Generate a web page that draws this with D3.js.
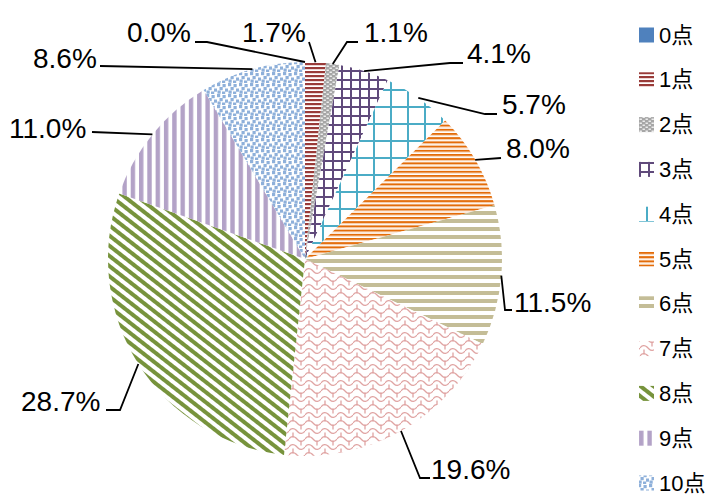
<!DOCTYPE html>
<html>
<head>
<meta charset="utf-8">
<script src="https://cdn.jsdelivr.net/npm/d3@7"></script>
<style>
  html, body { margin: 0; padding: 0; background: #fff; }
  svg { display: block; }
</style>
</head>
<body>
<svg id="chart" width="713" height="495"></svg>
<script>
// Score categories and their share of responses (%)
const categories = ["0点", "1点", "2点", "3点", "4点", "5点", "6点", "7点", "8点", "9点", "10点"];
const shares = [0.0, 1.7, 1.1, 4.1, 5.7, 8.0, 11.5, 19.6, 28.7, 11.0, 8.6];
const shareLabels = ["0.0%", "1.7%", "1.1%", "4.1%", "5.7%", "8.0%", "11.5%", "19.6%", "28.7%", "11.0%", "8.6%"];

// Label placement: text left edge / baseline and the leader-line bend points
const labelLayout = [
  { x: 127, y: 42,  bends: [[207, 42], [195, 42]] },
  { x: 242, y: 42,  bends: [[309, 42]] },
  { x: 364, y: 42,  bends: [[347, 42], [358, 42]] },
  { x: 467, y: 63,  bends: [[450, 63], [463, 63]] },
  { x: 502, y: 114, bends: [[485, 114], [497, 114]] },
  { x: 506, y: 158, bends: [[501, 158]] },
  { x: 514, y: 312, bends: [[505, 310], [512, 310]] },
  { x: 431, y: 479, bends: [[420, 478], [430, 478]] },
  { x: 21,  y: 411, bends: [[120, 410], [106, 410]] },
  { x: 9,   y: 138, bends: [[92, 132]] },
  { x: 33,  y: 68,  bends: [[100, 66]] }
];

const svg = d3.select("#chart");
const defs = svg.append("defs");

// ---- fill patterns ----
function pattern(id, w, h, draw, transform) {
  const p = defs.append("pattern")
    .attr("id", id)
    .attr("patternUnits", "userSpaceOnUse")
    .attr("width", w).attr("height", h);
  if (transform) p.attr("patternTransform", transform);
  p.append("rect").attr("width", w).attr("height", h).attr("fill", "#fff");
  draw(p);
}

// 1点: narrow horizontal dark red lines
pattern("p1", 8, 4, p => {
  p.append("rect").attr("y", 0).attr("width", 8).attr("height", 2).attr("fill", "#993B39");
  p.append("rect").attr("y", 2).attr("width", 8).attr("height", 0.6).attr("fill", "#E2B9B8");
});
// 2点: grey brick dots
pattern("p2", 6, 4, p => {
  p.append("rect").attr("width", 6).attr("height", 4).attr("fill", "#A6A6A6");
  p.append("rect").attr("x", 0.5).attr("y", 0.6).attr("width", 2.4).attr("height", 1.2).attr("fill", "#fff");
  p.append("rect").attr("x", 3.5).attr("y", 2.6).attr("width", 2.4).attr("height", 1.2).attr("fill", "#fff");
});
// 3点: small purple grid
pattern("p3", 9, 9, p => {
  p.append("rect").attr("width", 9).attr("height", 2).attr("fill", "#604A7B");
  p.append("rect").attr("width", 2).attr("height", 9).attr("fill", "#604A7B");
});
// 4点: large teal grid
pattern("p4", 17, 17, p => {
  p.append("rect").attr("width", 17).attr("height", 2).attr("fill", "#4BACC6");
  p.append("rect").attr("width", 2).attr("height", 17).attr("fill", "#4BACC6");
});
// 5点: narrow orange horizontal lines
pattern("p5", 8, 4.2, p => {
  p.append("rect").attr("y", 0).attr("width", 8).attr("height", 2).attr("fill", "#E36C09");
  p.append("rect").attr("y", 2).attr("width", 8).attr("height", 0.8).attr("fill", "#F6C49A");
});
// 6点: wide tan horizontal bands
pattern("p6", 8, 8, p => {
  p.append("rect").attr("y", 0).attr("width", 8).attr("height", 4).attr("fill", "#C4BD97");
});
// 7点: pink scales
pattern("p7", 16, 16, p => {
  const g = p.append("g").attr("fill", "none").attr("stroke", "#E0A3A2").attr("stroke-width", 1.3);
  g.append("path").attr("d", "M0,4 C2,1 5,1 7,3 L9,5 C11,7 14,7 16,4");
  g.append("path").attr("d", "M0,12 C2,9 5,9 7,11 L9,13 C11,15 14,15 16,12");
  g.append("path").attr("d", "M12,5.5 L12,10.5");
  g.append("path").attr("d", "M4,13.5 L4,16 M4,0 L4,2.5");
});
// 8点: wide olive diagonal stripes
pattern("p8", 8, 10, p => {
  p.append("rect").attr("width", 4).attr("height", 10).attr("fill", "#77933C");
}, "rotate(-52)");
// 9点: wide lavender vertical stripes
pattern("p9", 8.3, 8, p => {
  p.append("rect").attr("width", 4.4).attr("height", 8).attr("fill", "#B3A2C7");
});
// 10点: light blue confetti
pattern("p10", 11, 11, p => {
  const c = "#8EB0DA";
  [[0, 0], [5.5, 1], [2.5, 4], [8, 5.5], [0.5, 7.5], [5, 8.5]].forEach(([x, y]) => {
    p.append("rect").attr("x", x).attr("y", y).attr("width", 3.2).attr("height", 3.2).attr("fill", c);
  });
});

const fills = ["#4F81BD", "url(#p1)", "url(#p2)", "url(#p3)", "url(#p4)", "url(#p5)",
               "url(#p6)", "url(#p7)", "url(#p8)", "url(#p9)", "url(#p10)"];

// ---- pie ----
const cx = 305, cy = 259, radius = 197;
const pie = d3.pie().value(d => d).sort(null);
const arcs = pie(shares);
const arc = d3.arc().innerRadius(0).outerRadius(radius);

const g = svg.append("g").attr("transform", `translate(${cx},${cy})`);
g.selectAll("path.slice")
  .data(arcs)
  .join("path")
  .attr("class", "slice")
  .attr("d", arc)
  .attr("fill", (d, i) => fills[i]);

// ---- leader lines and value labels ----
const line = d3.line();
arcs.forEach((d, i) => {
  const a = (d.startAngle + d.endAngle) / 2;
  const anchor = [cx + radius * Math.sin(a), cy - radius * Math.cos(a)];
  const pts = [anchor].concat(labelLayout[i].bends);
  svg.append("path")
    .attr("d", line(pts))
    .attr("fill", "none")
    .attr("stroke", "#000")
    .attr("stroke-width", 1.8);
  svg.append("text")
    .attr("x", labelLayout[i].x)
    .attr("y", labelLayout[i].y)
    .attr("font-family", "'Liberation Sans', Arial, sans-serif")
    .attr("font-size", 28)
    .attr("fill", "#000")
    .text(shareLabels[i]);
});

// ---- legend ----
const legendY = d3.scalePoint().domain(categories).range([35, 483]);
const legend = svg.append("g");
categories.forEach((c, i) => {
  const y = legendY(c);
  legend.append("rect")
    .attr("x", 639).attr("y", y - 7.5)
    .attr("width", 15).attr("height", 15)
    .attr("fill", fills[i]);
  legend.append("text")
    .attr("x", 659).attr("y", y + 7.5)
    .attr("font-family", "'Liberation Sans', 'Noto Sans CJK SC', sans-serif")
    .attr("font-size", 22)
    .attr("fill", "#000")
    .text(c);
});
</script>
</body>
</html>
